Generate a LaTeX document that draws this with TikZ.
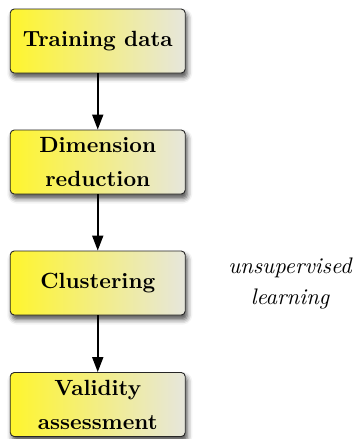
\documentclass[tikz,border=0pt]{standalone}
\usepackage{fontspec}
\usetikzlibrary{arrows.meta,shadows.blur}
% design-size-10 Latin Modern, scaled up
\newfontfamily\lmten{lmroman10-regular.otf}[
  BoldFont=lmroman10-bold.otf,
  ItalicFont=lmroman10-italic.otf]
\definecolor{boxleft}{RGB}{255,245,45}
\definecolor{boxright}{RGB}{230,230,220}
\tikzset{
  stage/.style={
    draw=black!85, line width=0.9pt, rounded corners=4pt,
    left color=boxleft, right color=boxright,
    minimum width=175pt, minimum height=64pt, inner sep=2pt,
    align=center, font=\lmten\fontsize{22}{34}\selectfont\bfseries,
    blur shadow={shadow xshift=2pt, shadow yshift=-4.5pt,
                 shadow blur radius=5pt, shadow opacity=70}},
  flow/.style={line width=1.8pt, -{Triangle[length=15pt,width=11pt]}},
  remark/.style={align=center, font=\lmten\fontsize{22.5}{31}\selectfont\itshape}
}
\begin{document}
\begin{tikzpicture}[x=1pt,y=1pt]
  \useasboundingbox (0,0) rectangle (358,-439);
  \node[stage] (train) at (97.75,-41)  {Training data};
  \node[stage] (dim)   at (97.75,-162) {Dimension\\reduction};
  \node[stage] (clust) at (97.75,-283) {Clustering};
  \node[stage] (valid) at (97.75,-404.5) {Validity\\assessment};
  \node[remark] (unsup) at (290,-283) {unsupervised\\learning};
  \draw[flow] (train) -- (dim);
  \draw[flow] (dim) -- (clust);
  \draw[flow] (clust) -- (valid);
\end{tikzpicture}
\end{document}
